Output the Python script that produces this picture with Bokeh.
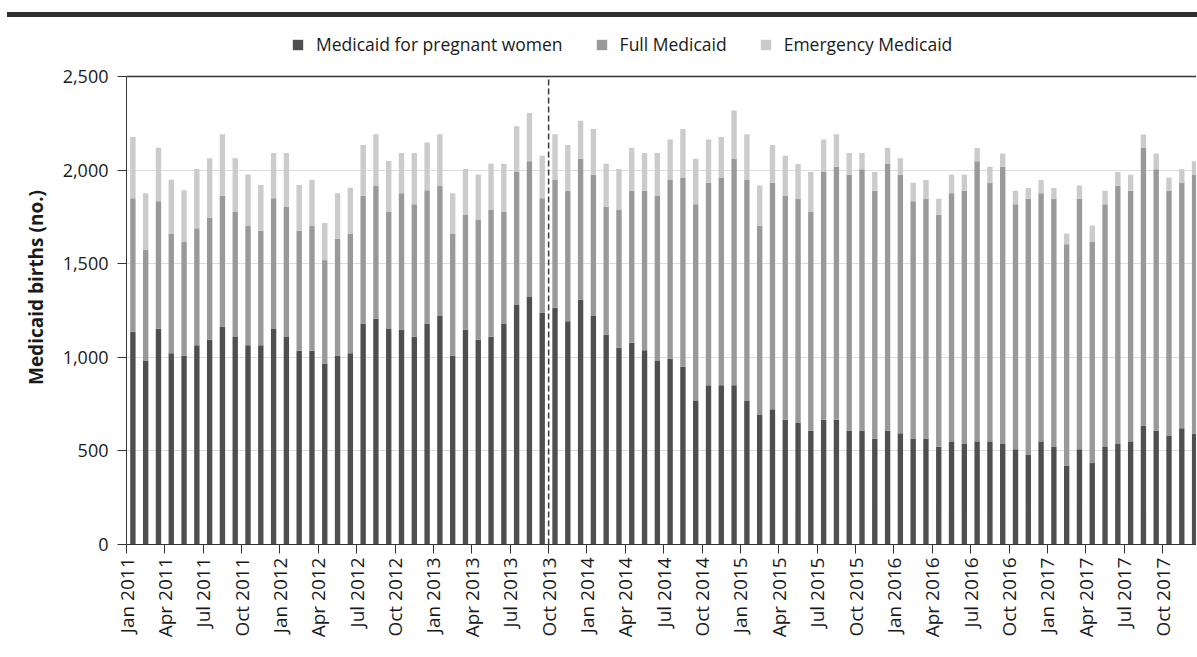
from bokeh.plotting import figure
from bokeh.models import (Range1d, FixedTicker, NumeralTickFormatter, Span, Legend,
                          LegendItem, Div, ColumnDataSource, Title)
from bokeh.layouts import column
from bokeh.embed import file_html
from bokeh.resources import INLINE
import math

months = [f"{m} {y}" for y in range(2011, 2018)
          for m in ["Jan", "Feb", "Mar", "Apr", "May", "Jun", "Jul", "Aug", "Sep", "Oct", "Nov", "Dec"]]

pregnant = [1137, 980, 1153, 1022, 1008, 1065, 1094, 1163, 1108, 1065, 1065, 1151,
            1108, 1035, 1035, 965, 1008, 1022, 1180, 1206, 1151, 1149, 1110, 1180,
            1221, 1008, 1149, 1094, 1110, 1180, 1279, 1322, 1237, 1265, 1192, 1308,
            1221, 1121, 1051, 1078, 1037, 980, 992, 949, 766, 851, 851, 851,
            766, 692, 723, 666, 651, 608, 666, 666, 608, 608, 566, 608,
            594, 566, 566, 523, 551, 537, 551, 551, 537, 509, 478, 551,
            521, 421, 509, 435, 521, 537, 551, 635, 608, 580, 621, 592]

full = [712, 596, 680, 639, 610, 625, 653, 700, 668, 639, 611, 698,
        698, 641, 669, 554, 625, 639, 683, 712, 625, 727, 708, 712,
        697, 653, 614, 639, 680, 596, 711, 725, 612, 682, 698, 753,
        754, 683, 739, 812, 853, 881, 955, 1012, 1052, 1082, 1110, 1210,
        1181, 1012, 1210, 1195, 1196, 1168, 1324, 1352, 1367, 1396, 1324, 1424,
        1381, 1267, 1281, 1238, 1325, 1353, 1496, 1382, 1481, 1309, 1369, 1325,
        1326, 1183, 1338, 1183, 1297, 1381, 1339, 1483, 1396, 1310, 1312, 1383]

emergency = [328, 301, 287, 288, 274, 316, 316, 328, 287, 273, 244, 242,
             285, 244, 245, 199, 244, 245, 271, 273, 273, 215, 273, 256,
             273, 216, 243, 244, 244, 258, 244, 258, 228, 244, 244, 202,
             245, 230, 216, 230, 201, 230, 216, 259, 243, 230, 216, 257,
             244, 214, 201, 216, 185, 214, 173, 173, 116, 87, 100, 88,
             88, 100, 100, 86, 99, 85, 71, 85, 71, 72, 57, 71,
             57, 57, 71, 86, 72, 72, 85, 72, 85, 71, 71, 72]

series = ["Medicaid for pregnant women", "Full Medicaid", "Emergency Medicaid"]
colors = ["#4f4f4f", "#999999", "#cbcbcb"]
y_ticks = [0, 500, 1000, 1500, 2000, 2500]
y_label = "Medicaid births (no.)"
policy_month = "Oct 2013"

FONT = "Open Sans"
TXT = "#1a1a1a"

n = len(months)
src = ColumnDataSource(dict(
    x=[i + 0.5 for i in range(n)],
    pregnant=pregnant, full=full, emergency=emergency,
))

# layout geometry (pixels)
W = 1196
H = 637
B_TOP, B_BOT = 11, 112
AXIS_PX = 468            # pixel height of the 0..2500 span
frame_h = H - B_TOP - B_BOT
y_top = max(y_ticks) * frame_h / AXIS_PX

p = figure(width=W, height=H, output_backend="svg", toolbar_location=None,
           x_range=Range1d(0, 83.65), y_range=Range1d(0, y_top),
           min_border_left=126, min_border_right=0, min_border_top=B_TOP,
           min_border_bottom=B_BOT)

rs = p.vbar_stack(["pregnant", "full", "emergency"], x="x", width=0.42, source=src,
                  color=colors, line_color=None)

p.outline_line_color = None
p.background_fill_color = "white"
p.border_fill_color = "white"

# axes
p.xaxis.ticker = FixedTicker(ticks=list(range(0, n, 3)))
p.xaxis.major_label_overrides = {i: months[i] for i in range(0, n, 3)}
p.xaxis.major_label_orientation = math.pi / 2
p.xaxis.minor_tick_line_color = None
p.xaxis.major_tick_out = 9
p.xaxis.major_tick_in = 0
p.xaxis.axis_line_color = "#333333"
p.xaxis.major_tick_line_color = "#333333"
p.xaxis.major_label_text_font = FONT
p.xaxis.major_label_text_font_size = "19px"
p.xaxis.major_label_text_color = TXT
p.xaxis.major_label_standoff = 4

p.yaxis.ticker = FixedTicker(ticks=y_ticks)
p.yaxis.bounds = (0, max(y_ticks))
p.yaxis.formatter = NumeralTickFormatter(format="0,0")
p.yaxis.minor_tick_line_color = None
p.yaxis.major_tick_out = 9
p.yaxis.major_tick_in = 0
p.yaxis.axis_line_color = "#333333"
p.yaxis.major_tick_line_color = "#333333"
p.yaxis.major_label_text_font = FONT
p.yaxis.major_label_text_font_size = "18px"
p.yaxis.major_label_text_color = TXT
p.yaxis.major_label_standoff = 9

# y axis title, centred on the 0..2500 span rather than the whole frame
shift = (frame_h - AXIS_PX) / 2
p.add_layout(Title(text=y_label, align="center", offset=-shift, standoff=21,
                   text_font=FONT, text_font_style="bold", text_font_size="19px",
                   text_color=TXT), "left")

p.xgrid.grid_line_color = None
p.ygrid.grid_line_color = "#dddddd"
p.ygrid.grid_line_width = 1

# top frame line and policy marker
p.add_layout(Span(location=max(y_ticks), dimension="width", line_color="#333333", line_width=1.5))
px = months.index(policy_month)
p.segment(x0=[px], y0=[0], x1=[px], y1=[max(y_ticks)], line_color="#3a3a3a",
          line_width=1.5, line_dash="6 3")

legend = Legend(items=[LegendItem(label=s, renderers=[r]) for s, r in zip(series, rs)],
                orientation="horizontal", location=(165, 488),
                border_line_color=None, background_fill_alpha=0,
                glyph_width=13, glyph_height=13, label_standoff=12, spacing=32,
                padding=0, margin=0, label_height=13,
                label_text_font=FONT, label_text_font_size="17.5px", label_text_color=TXT)
p.add_layout(legend, "center")

rule = Div(text='<div style="margin-top:4px;margin-left:2px;height:5px;width:1194px;background:#2e2e2e;"></div>',
           width=W, height=9)

layout = column(rule, p, spacing=0)
open("out.html", "w").write(file_html(layout, INLINE))
